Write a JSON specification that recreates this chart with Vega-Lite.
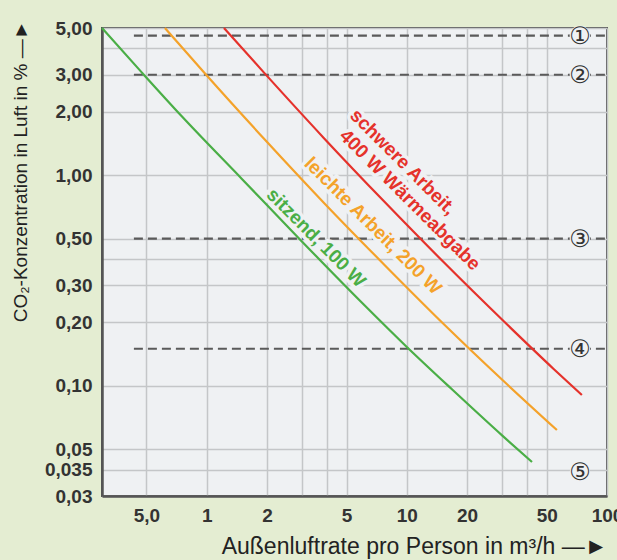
{
  "$schema": "https://vega.github.io/schema/vega-lite/v6.json",
  "width": 505,
  "height": 468,
  "autosize": {"type": "none"},
  "padding": {"left": 102, "top": 28, "right": 10, "bottom": 64},
  "background": "#e4edd2",
  "config": {
    "view": {"fill": "#eff1f3", "stroke": "#555555", "strokeWidth": 2},
    "font": "Liberation Sans"
  },
  "datasets": {
    "curves": [
      {"group": "sitzend", "x": 0.3, "y": 5.0},
      {"group": "sitzend", "x": 0.475, "y": 3.07},
      {"group": "sitzend", "x": 0.753, "y": 1.9},
      {"group": "sitzend", "x": 1.5, "y": 0.96},
      {"group": "sitzend", "x": 2.99, "y": 0.485},
      {"group": "sitzend", "x": 5.97, "y": 0.248},
      {"group": "sitzend", "x": 10.0, "y": 0.153},
      {"group": "sitzend", "x": 16.8, "y": 0.0963},
      {"group": "sitzend", "x": 29.9, "y": 0.0582},
      {"group": "sitzend", "x": 42.2, "y": 0.0435},
      {"group": "leicht", "x": 0.619, "y": 5.0},
      {"group": "leicht", "x": 0.981, "y": 3.04},
      {"group": "leicht", "x": 1.956, "y": 1.474},
      {"group": "leicht", "x": 3.9, "y": 0.731},
      {"group": "leicht", "x": 7.78, "y": 0.373},
      {"group": "leicht", "x": 15.5, "y": 0.194},
      {"group": "leicht", "x": 30.9, "y": 0.104},
      {"group": "leicht", "x": 56.2, "y": 0.0617},
      {"group": "schwer", "x": 1.22, "y": 5.0},
      {"group": "schwer", "x": 1.934, "y": 3.07},
      {"group": "schwer", "x": 3.855, "y": 1.5},
      {"group": "schwer", "x": 7.69, "y": 0.752},
      {"group": "schwer", "x": 15.3, "y": 0.386},
      {"group": "schwer", "x": 30.6, "y": 0.202},
      {"group": "schwer", "x": 54.3, "y": 0.12},
      {"group": "schwer", "x": 74.9, "y": 0.0905}
    ],
    "refs": [
      {"id": "①", "y": 4.6, "x0": 0.433, "x1": 100},
      {"id": "②", "y": 3.0, "x0": 0.433, "x1": 100},
      {"id": "③", "y": 0.5, "x0": 0.433, "x1": 100},
      {"id": "④", "y": 0.15, "x0": 0.433, "x1": 100}
    ],
    "marks": [
      {"id": "①", "y": 4.6, "xl": 73.2},
      {"id": "②", "y": 3.0, "xl": 73.2},
      {"id": "③", "y": 0.5, "xl": 73.2},
      {"id": "④", "y": 0.15, "xl": 73.2},
      {"id": "⑤", "y": 0.039, "xl": 73.2}
    ],
    "labels": [
      {"group": "sitzend", "text": "sitzend, 100 W", "x": 3.52, "y": 0.504},
      {"group": "leicht", "text": "leichte Arbeit, 200 W", "x": 6.77, "y": 0.575},
      {"group": "schwer", "text": "schwere Arbeit,", "x": 9.56, "y": 1.155},
      {"group": "schwer", "text": "400 W Wärmeabgabe", "x": 10.37, "y": 0.763}
    ]
  },
  "layer": [
    {
      "data": {"name": "refs"},
      "mark": {"type": "rule", "color": "#5a5a5a", "strokeWidth": 2.2, "strokeDash": [9, 5]},
      "encoding": {
        "x": {
          "field": "x0", "type": "quantitative",
          "scale": {"type": "log", "domain": [0.3, 100], "nice": false},
          "title": "Außenluftrate pro Person in m³/h —►",
          "axis": {
            "values": [0.5, 1, 2, 3, 4, 5, 10, 20, 30, 40, 50, 100],
            "labelExpr": "datum.value == 0.5 ? '5,0' : (datum.value == 3 || datum.value == 4 || datum.value == 30 || datum.value == 40) ? '' : format(datum.value, 'd')",
            "labelFont": "Liberation Sans", "labelFontSize": 19, "labelFontWeight": "bold", "labelColor": "#333333",
            "labelPadding": 10, "labelOverlap": false, "labelFlush": false,
            "ticks": false, "domainColor": "#555555", "domainWidth": 2.5,
            "grid": true, "gridColor": "#c4c6c8", "gridWidth": 1.5,
            "titleFont": "Liberation Sans", "titleFontSize": 23, "titleFontWeight": "normal", "titleColor": "#222222",
            "titleAnchor": "end", "titleY": 50, "titleBaseline": "middle"
          }
        },
        "x2": {"field": "x1"},
        "y": {
          "field": "y", "type": "quantitative",
          "scale": {"type": "log", "domain": [0.03, 5], "nice": false},
          "title": "CO₂-Konzentration in Luft in % —►",
          "axis": {
            "values": [5, 4, 3, 2, 1, 0.5, 0.4, 0.3, 0.2, 0.1, 0.05, 0.04, 0.03],
            "labelExpr": "(datum.value == 4 || datum.value == 0.4) ? '' : datum.value == 0.04 ? '0,035' : replace(format(datum.value, '.2f'), '.', ',')",
            "labelFont": "Liberation Sans", "labelFontSize": 19, "labelFontWeight": "bold", "labelColor": "#333333",
            "labelPadding": 10, "labelOverlap": false, "labelFlush": false,
            "ticks": false, "domainColor": "#555555", "domainWidth": 2.5,
            "grid": true, "gridColor": "#c4c6c8", "gridWidth": 1.5,
            "titleFont": "Liberation Sans", "titleFontSize": 19, "titleFontWeight": "normal", "titleColor": "#222222",
            "titleAnchor": "end", "titleX": -82, "titleY": -8, "titleBaseline": "middle"
          }
        }
      }
    },
    {
      "data": {"name": "marks"},
      "mark": {"type": "point", "filled": true, "color": "#eff1f3", "size": 420, "opacity": 1},
      "encoding": {
        "x": {"field": "xl", "type": "quantitative", "title": "Außenluftrate pro Person in m³/h —►"},
        "y": {"field": "y", "type": "quantitative", "title": "CO₂-Konzentration in Luft in % —►"}
      }
    },
    {
      "data": {"name": "marks"},
      "mark": {"type": "text", "font": "DejaVu Sans", "fontSize": 24, "color": "#333333", "baseline": "middle", "align": "center", "dy": 1},
      "encoding": {
        "x": {"field": "xl", "type": "quantitative", "title": "Außenluftrate pro Person in m³/h —►"},
        "y": {"field": "y", "type": "quantitative", "title": "CO₂-Konzentration in Luft in % —►"},
        "text": {"field": "id"}
      }
    },
    {
      "data": {"name": "labels"},
      "mark": {"type": "text", "font": "Liberation Sans", "fontSize": 19, "fontWeight": "bold", "angle": 45, "baseline": "middle", "align": "center", "fill": "#eff1f3", "stroke": "#eff1f3", "strokeWidth": 7},
      "encoding": {
        "x": {"field": "x", "type": "quantitative", "title": "Außenluftrate pro Person in m³/h —►"},
        "y": {"field": "y", "type": "quantitative", "title": "CO₂-Konzentration in Luft in % —►"},
        "text": {"field": "text"}
      }
    },
    {
      "data": {"name": "curves"},
      "mark": {"type": "line", "strokeWidth": 2.2, "interpolate": "monotone"},
      "encoding": {
        "x": {"field": "x", "type": "quantitative", "title": "Außenluftrate pro Person in m³/h —►"},
        "y": {"field": "y", "type": "quantitative", "title": "CO₂-Konzentration in Luft in % —►"},
        "color": {"field": "group", "type": "nominal", "scale": {"domain": ["sitzend", "leicht", "schwer"], "range": ["#4aae46", "#f4a22a", "#e5322b"]}, "legend": null},
        "order": {"field": "x", "type": "quantitative"}
      }
    },
    {
      "data": {"name": "labels"},
      "mark": {"type": "text", "font": "Liberation Sans", "fontSize": 19, "fontWeight": "bold", "angle": 45, "baseline": "middle", "align": "center"},
      "encoding": {
        "x": {"field": "x", "type": "quantitative", "title": "Außenluftrate pro Person in m³/h —►"},
        "y": {"field": "y", "type": "quantitative", "title": "CO₂-Konzentration in Luft in % —►"},
        "text": {"field": "text"},
        "color": {"field": "group", "type": "nominal", "scale": {"domain": ["sitzend", "leicht", "schwer"], "range": ["#4aae46", "#f4a22a", "#e5322b"]}, "legend": null}
      }
    }
  ]
}
